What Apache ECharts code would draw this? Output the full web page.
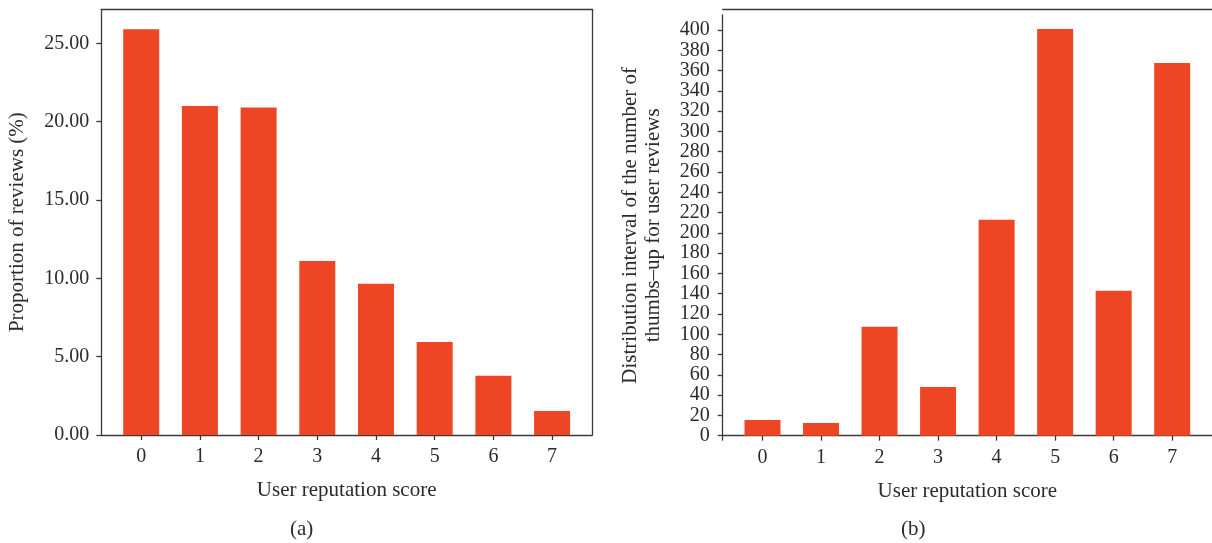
<!DOCTYPE html>
<html>
<head>
<meta charset="utf-8">
<script src="https://cdn.jsdelivr.net/npm/echarts@6/dist/echarts.min.js"></script>
<style>
html,body{margin:0;padding:0;background:#fff;}
#chart{width:1212px;height:543px;}
</style>
</head>
<body>
<div id="chart"></div>
<script>
// ---- data ----
var categories = [0, 1, 2, 3, 4, 5, 6, 7];
var proportionValues = [25.89, 21.0, 20.91, 11.11, 9.65, 5.94, 3.78, 1.53];
var thumbsValues = [15.5, 12.5, 107.5, 48, 213, 401, 143, 367.5];
var leftYTicks = [0, 5, 10, 15, 20, 25];
var rightYTicks = [0, 20, 40, 60, 80, 100, 120, 140, 160, 180, 200, 220, 240, 260, 280, 300, 320, 340, 360, 380, 400];
var xTitle = 'User reputation score';
var leftYTitle = 'Proportion of reviews (%)';
var rightYTitle = 'Distribution interval of the number of\nthumbs\u2013up for user reviews';
var panelLabels = ['(a)', '(b)'];

// ---- styles ----
var FONT = 'Liberation Serif';
var TXT = '#2b2b2b';
var LINE = '#3a3a3a';
var BAR = '#EE4524';
var XMIN = -0.68, XMAX = 7.68;

var lineStyle = {color: LINE, width: 1.3};
var tickStyle = {color: LINE, width: 1.3};
var nameStyle = {fontFamily: FONT, fontSize: 21, color: TXT, lineHeight: 23};

function pairs(vals) {
  return categories.map(function (c, i) { return [c, vals[i]]; });
}

function bottomX(gridIndex, extraTick) {
  var tv = categories.slice();
  if (extraTick) tv = [XMIN].concat(tv);
  return {
    type: 'value', gridIndex: gridIndex, position: 'bottom',
    min: XMIN, max: XMAX,
    name: xTitle, nameLocation: 'middle', nameGap: 44,
    nameTextStyle: nameStyle,
    axisLine: {show: true, onZero: false, lineStyle: lineStyle},
    axisTick: {show: true, length: 5, inside: false, lineStyle: tickStyle, customValues: tv},
    axisLabel: {show: true, margin: 12, customValues: categories,
      fontFamily: FONT, fontSize: 20, color: TXT},
    splitLine: {show: false}
  };
}
function frameX(gridIndex, offset) {
  return {
    type: 'value', gridIndex: gridIndex, position: 'top', offset: offset || 0,
    min: 0, max: 1,
    axisLine: {show: true, onZero: false, lineStyle: lineStyle},
    axisTick: {show: false}, axisLabel: {show: false}, splitLine: {show: false}
  };
}
function frameY(gridIndex) {
  return {
    type: 'value', gridIndex: gridIndex, position: 'right',
    min: 0, max: 1,
    axisLine: {show: true, onZero: false, lineStyle: lineStyle},
    axisTick: {show: false}, axisLabel: {show: false}, splitLine: {show: false}
  };
}

var option = {
  animation: false,
  backgroundColor: '#ffffff',
  grid: [
    {left: 101.3, right: 620, top: 9.3, bottom: 108, containLabel: false},
    {left: 722.7, right: -0.9, top: 15, bottom: 107.3, containLabel: false}
  ],
  xAxis: [
    bottomX(0, false),
    frameX(0, 0),
    bottomX(1, true),
    frameX(1, 5.7)
  ],
  yAxis: [
    {
      type: 'value', gridIndex: 0, position: 'left',
      min: 0, max: 27.17,
      name: leftYTitle, nameLocation: 'middle', nameGap: 72, nameRotate: 90,
      nameTextStyle: nameStyle,
      axisLine: {show: true, onZero: false, lineStyle: lineStyle},
      axisTick: {show: true, length: 5, lineStyle: tickStyle, customValues: leftYTicks},
      axisLabel: {show: true, margin: 12, customValues: leftYTicks,
        fontFamily: FONT, fontSize: 20, color: TXT,
        formatter: function (v) { return Number(v).toFixed(2); }},
      splitLine: {show: false}
    },
    frameY(0),
    {
      type: 'value', gridIndex: 1, position: 'left',
      min: 0, max: 414.8,
      name: rightYTitle, nameLocation: 'middle', nameGap: 58, nameRotate: 90,
      nameTextStyle: nameStyle,
      axisLine: {show: true, onZero: false, lineStyle: lineStyle},
      axisTick: {show: true, length: 5, lineStyle: tickStyle, customValues: rightYTicks},
      axisLabel: {show: true, margin: 13, customValues: rightYTicks,
        fontFamily: FONT, fontSize: 20, color: TXT},
      splitLine: {show: false}
    }
  ],
  series: [
    {
      type: 'bar', xAxisIndex: 0, yAxisIndex: 0,
      data: pairs(proportionValues), barWidth: 36,
      itemStyle: {color: BAR}, silent: true
    },
    {
      type: 'bar', xAxisIndex: 2, yAxisIndex: 2,
      data: pairs(thumbsValues), barWidth: 36,
      itemStyle: {color: BAR}, silent: true
    }
  ],
  graphic: [
    {type: 'text', left: 290, top: 519, style: {text: panelLabels[0], font: '21px "Liberation Serif"', fill: TXT}},
    {type: 'text', left: 901, top: 519, style: {text: panelLabels[1], font: '21px "Liberation Serif"', fill: TXT}}
  ]
};

var chart = echarts.init(document.getElementById('chart'), null, {renderer: 'canvas'});
chart.setOption(option);
</script>
</body>
</html>
